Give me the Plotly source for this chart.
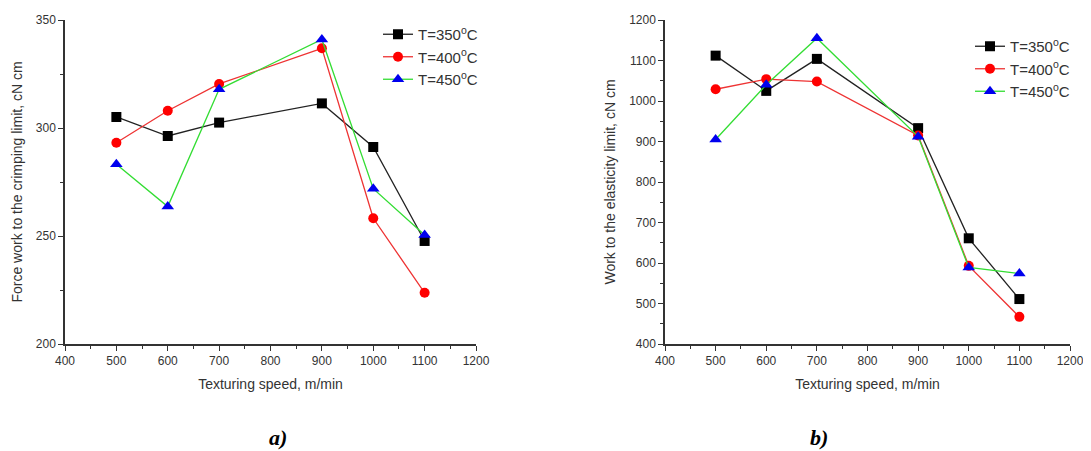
import plotly.graph_objects as go

speed = [500, 600, 700, 900, 1000, 1100]

# a) force work to the crimping limit, cN cm
crimp_350 = [305.1, 296.3, 302.5, 311.4, 291.2, 247.7]
crimp_400 = [293.2, 308.0, 320.4, 336.9, 258.2, 223.7]
crimp_450 = [283.2, 263.6, 317.9, 341.0, 271.9, 250.5]

# b) work to the elasticity limit, cN cm
elast_350 = [1112, 1025, 1104, 933, 661, 511]
elast_400 = [1029, 1054, 1048, 915, 593, 467]
elast_450 = [905, 1040, 1155, 912, 589, 574]

names = ["T=350<sup>o</sup>C", "T=400<sup>o</sup>C", "T=450<sup>o</sup>C"]
line_cols = ["#222222", "#ee3333", "#33dd33"]
mark_cols = ["#000000", "#ff0000", "#0000ee"]
symbols = ["square", "circle", "triangle-up"]
msizes = [10, 10, 11]

font = "Liberation Sans, Arial, sans-serif"
axcol = "#333333"

# page body has an 8px margin, so positions below are taken from the
# reference and shifted by that offset
OFF = 8
W, H = 1091 - OFF, 451 - OFF

def px(x):
    return (x - OFF) / W

def py(y):
    return 1 - (y - OFF) / H

fig = go.Figure()

for i, ys in enumerate([crimp_350, crimp_400, crimp_450]):
    fig.add_trace(go.Scatter(
        x=speed, y=ys, name=names[i], mode="lines+markers",
        line=dict(color=line_cols[i], width=1.3),
        marker=dict(symbol=symbols[i], size=msizes[i], color=mark_cols[i]),
        xaxis="x", yaxis="y", legend="legend"))

for i, ys in enumerate([elast_350, elast_400, elast_450]):
    fig.add_trace(go.Scatter(
        x=speed, y=ys, name=names[i], mode="lines+markers",
        line=dict(color=line_cols[i], width=1.3),
        marker=dict(symbol=symbols[i], size=msizes[i], color=mark_cols[i]),
        xaxis="x2", yaxis="y2", legend="legend2"))

def xax(domain, anchor):
    return dict(domain=domain, anchor=anchor, range=[400, 1200], dtick=100,
                automargin=False,
                showgrid=False, zeroline=False, showline=True, linecolor=axcol,
                linewidth=1.5, ticks="outside", ticklen=5, tickcolor=axcol,
                tickfont=dict(size=12, color=axcol, family=font),
                minor=dict(ticks="outside", ticklen=3, dtick=50, tickcolor=axcol),
                title=dict(text="Texturing speed, m/min", standoff=12,
                           font=dict(size=14, color=axcol, family=font)))

def yax(domain, anchor, rng, dt, mdt, title):
    return dict(domain=domain, anchor=anchor, range=rng, dtick=dt,
                automargin=False,
                showgrid=False, zeroline=False, showline=True, linecolor=axcol,
                linewidth=1.5, ticks="outside", ticklen=5, tickcolor=axcol,
                tickfont=dict(size=12, color=axcol, family=font),
                minor=dict(ticks="outside", ticklen=3, dtick=mdt, tickcolor=axcol),
                title=dict(text=title, standoff=10,
                           font=dict(size=14, color=axcol, family=font)))

ydom = [py(344), py(20)]

fig.update_layout(
    width=W, height=H,
    margin=dict(l=0, r=0, t=0, b=0, autoexpand=False),
    paper_bgcolor="white", plot_bgcolor="white",
    font=dict(family=font, color=axcol),
    xaxis=xax([px(65), px(476)], "y"),
    yaxis=yax(ydom, "x", [200, 350], 50, 25, "Force work to the crimping limit, cN cm"),
    xaxis2=xax([px(665), px(1070)], "y2"),
    yaxis2=yax(ydom, "x2", [400, 1200], 100, 50, "Work to the elasticity limit, cN cm"),
    legend=dict(x=px(378), y=py(18), xanchor="left", yanchor="top",
                bgcolor="rgba(0,0,0,0)", font=dict(size=15, color=axcol, family=font),
                tracegroupgap=0, itemwidth=30),
    legend2=dict(x=px(970), y=py(30), xanchor="left", yanchor="top",
                 bgcolor="rgba(0,0,0,0)", font=dict(size=15, color=axcol, family=font),
                 tracegroupgap=0, itemwidth=30),
    annotations=[
        dict(text="<b><i>a)</i></b>", x=px(267), y=py(437), xref="paper",
             yref="paper", yanchor="middle", showarrow=False,
             font=dict(size=22, color="black",
                       family="Liberation Serif, Times New Roman, serif")),
        dict(text="<b><i>b)</i></b>", x=px(830), y=py(437), xref="paper",
             yref="paper", yanchor="middle", showarrow=False,
             font=dict(size=22, color="black",
                       family="Liberation Serif, Times New Roman, serif")),
    ],
)

fig.write_html("out.html")
